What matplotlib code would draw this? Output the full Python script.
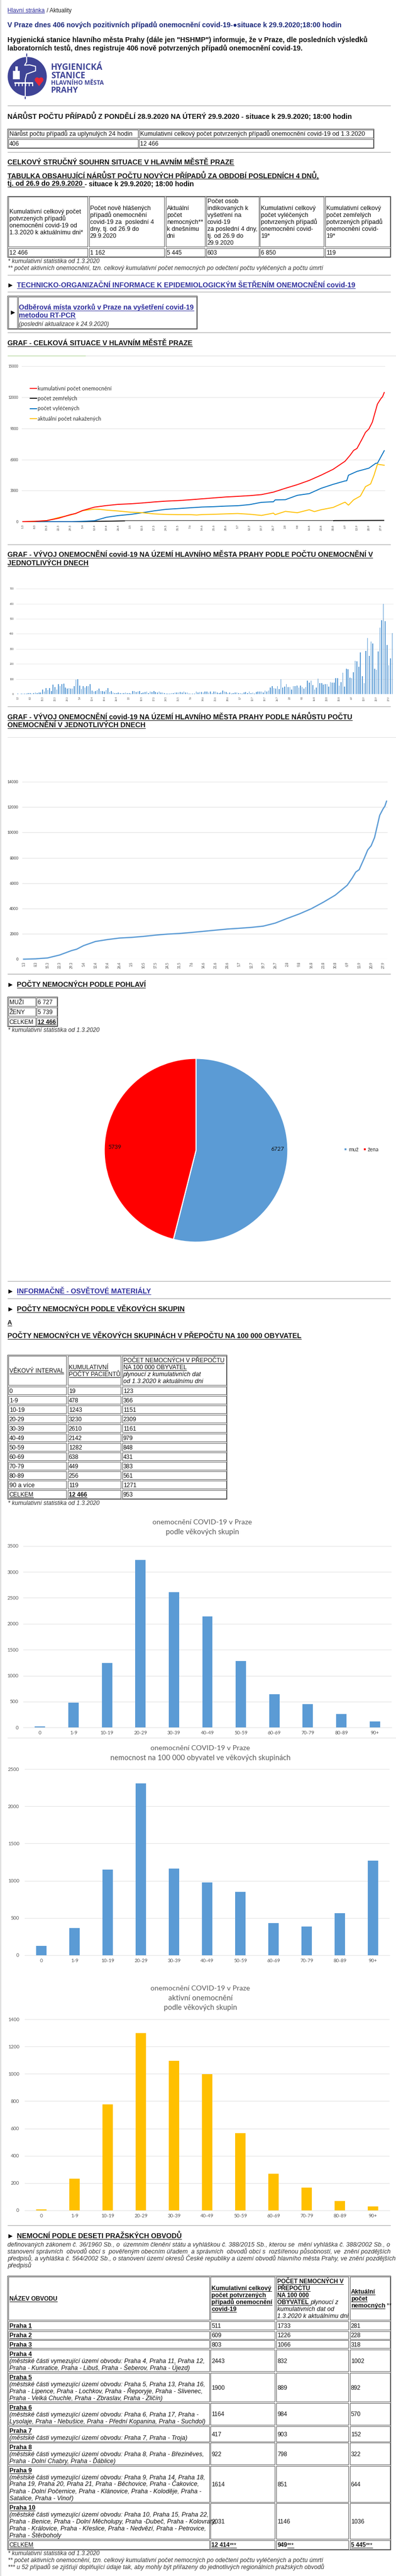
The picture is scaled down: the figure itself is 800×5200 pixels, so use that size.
import matplotlib
matplotlib.use('Agg')
import matplotlib.pyplot as plt
from matplotlib.patches import Rectangle, Circle, Polygon
from matplotlib.lines import Line2D

# ---------- DATA ----------
week_labels = ['1.3','8.3','15.3','22.3','29.3','5.4','12.4','19.4','26.4','3.5','10.5','17.5','24.5','31.5','7.6',
               '14.6','21.6','28.6','5.7','12.7','19.7','26.7','2.8','9.8','16.8','23.8','30.8','6.9','13.9','20.9','27.9']

cum_days = [0,7,14,21,28,31,35,42,49,56,63,70,77,84,91,98,105,112,119,126,133,140,147,154,161,168,175,182,189,192,194,196,199,201,203,205,207,208,209,210,211,212]
cum_vals = [3,30,100,330,680,790,1070,1400,1550,1670,1720,1800,1900,1980,2030,2110,2200,2290,2380,2440,2510,2610,2850,3220,3570,3980,4490,5050,5830,6415,6870,7065,7975,8620,8950,9600,10770,11350,11610,11870,12065,12466]

rec_days = [0,28,35,42,49,56,63,70,77,84,91,98,105,112,119,126,133,140,147,148,154,161,168,175,182,189,190,191,196,203,207,208,212]
rec_vals = [0,0,30,90,420,585,695,860,1040,1190,1260,1335,1410,1445,1500,1535,1645,1865,1920,2100,2120,2540,2705,3220,3600,3930,3950,4480,4850,5160,5630,5640,6850]

act_days = [0,7,14,21,28,31,35,42,45,49,56,63,70,77,84,91,98,102,105,112,119,126,133,140,147,148,154,161,168,171,175,182,189,191,194,198,201,204,206,208,212]
act_vals = [0,25,90,400,640,790,1060,1210,1190,1115,1025,915,860,750,695,675,675,640,680,710,750,785,715,600,820,675,990,860,1150,970,1150,1370,1880,1590,2100,2470,3380,3640,4480,5540,5445]

death_days_a = [0,33,40,50,60]
death_vals_a = [0,2,20,45,75]
death_days_b = [60,100,182]
death_vals_b = [75,85,90]
death_days_c = [182,183,212]
death_vals_c = [90,105,119]

daily_cases = [3,0,3,2,3,3,5, 8,3,8,11,8,9,9, 28,18,38,26,41,19,61, 45,28,65,52,65,68,42,
               35,38,35,35,52,95,100, 55,32,52,42,52,52,65, 22,16,19,25,35,19,19, 15,27,38,12,19,9,8,
               8,9,5,6,8,9,5, 7,4,19,19,12,15,21, 5,11,12,18,5,18,13, 21,12,11,18,9,11,8,
               2,3,3,8,8,11,9, 11,12,9,18,11,9,4, 4,4,4,15,9,12,12, 9,18,18,9,18,8,15,
               18,9,8,9,23,15,12, 8,11,2,8,9,11,8, 8,4,9,12,8,15,8, 11,2,12,15,15,18,11,
               23,15,23,42,52,38,35, 52,32,100,42,48,65,45, 46,30,52,54,55,42,55, 46,35,45,88,75,90,58,
               28,42,101,72,74,62,65, 65,48,78,75,75,105,105, 55,80,142,50,167,165,107,
               104,144,220,216,180,275,120, 72,287,373,253,350,337,168, 160,282,442,491,600,485,325, 190,238,406]

sex_labels = ['muž', 'žena']
sex_values = [6727, 5739]

age_labels = ['0','1-9','10-19','20-29','30-39','40-49','50-59','60-69','70-79','80-89','90+']
age_cases = [19,478,1243,3230,2610,2142,1282,638,449,256,119]
age_rate = [123,366,1151,2309,1161,979,848,431,383,561,1271]
age_active = [6,233,775,1300,1096,998,566,268,165,68,28]

legend_names = ['kumulativní počet onemocnění','počet zemřelých','počet vyléčených','aktuální počet nakažených']

age_table_names = ['0','1-9','10-19','20-29','30-39','40-49','50-59','60-69','70-79','80-89','90 a více']

table1 = [['Nárůst počtu případů za uplynulých 24 hodin','Kumulativní celkový počet potvrzených případů onemocnění covid-19 od 1.3.2020'],['406','12 466']]
table2_head = [['Kumulativní celkový počet','potvrzených případů','onemocnění covid-19 od','1.3.2020 k aktuálnímu dni*'],
               ['Počet nově hlášených','případů onemocnění','covid-19 za  poslední 4','dny, tj. od 26.9 do','29.9.2020'],
               ['Aktuální','počet','nemocných**','k dnešnímu','dni'],
               ['Počet osob','indikovaných k','vyšetření na','covid-19','za poslední 4 dny,','tj. od 26.9 do','29.9.2020'],
               ['Kumulativní celkový','počet vyléčených','potvrzených případů','onemocnění covid-','19*'],
               ['Kumulativní celkový','počet zemřelých','potvrzených případů','onemocnění covid-','19*']]
table2_vals = ['12 466','1 162','5 445','603','6 850','119']

districts = [
 ('Praha 1',[], '511','1733','281'),
 ('Praha 2',[], '609','1226','228'),
 ('Praha 3',[], '803','1066','318'),
 ('Praha 4',['(městské části vymezující území obvodu: Praha 4, Praha 11, Praha 12,','Praha - Kunratice, Praha - Libuš, Praha - Šeberov, Praha - Újezd)'],'2443','832','1002'),
 ('Praha 5',['(městské části vymezující území obvodu: Praha 5, Praha 13, Praha 16,','Praha - Lipence, Praha - Lochkov, Praha - Řeporyje, Praha - Slivenec,','Praha - Velká Chuchle, Praha - Zbraslav, Praha - Zličín)'],'1900','889','892'),
 ('Praha 6',['(městské části vymezující území obvodu: Praha 6, Praha 17, Praha -','Lysolaje, Praha - Nebušice, Praha - Přední Kopanina, Praha - Suchdol)'],'1164','984','570'),
 ('Praha 7',['(městské části vymezující území obvodu: Praha 7, Praha - Troja)'],'417','903','152'),
 ('Praha 8',['(městské části vymezující území obvodu: Praha 8, Praha - Březiněves,','Praha - Dolní Chabry, Praha - Ďáblice)'],'922','798','322'),
 ('Praha 9',['(městské části vymezující území obvodu: Praha 9, Praha 14, Praha 18,','Praha 19, Praha 20, Praha 21, Praha - Běchovice, Praha - Čakovice,','Praha - Dolní Počernice, Praha - Klánovice, Praha - Koloděje, Praha -','Satalice, Praha - Vinoř)'],'1614','851','644'),
 ('Praha 10',['(městské části vymezující území obvodu: Praha 10, Praha 15, Praha 22,','Praha - Benice, Praha - Dolní Měcholupy, Praha -Dubeč, Praha - Kolovraty,','Praha - Královice, Praha - Křeslice, Praha - Nedvězí, Praha - Petrovice,','Praha - Štěrboholy'],'2031','1146','1036'),
]
paragraph = ['definovaných zákonem č. 36/1960 Sb., o územním členění státu a vyhláškou č. 388/2015 Sb., kterou se mění vyhláška č. 388/2002 Sb., o',
             'stanovení správních obvodů obcí s pověřeným obecním úřadem a správních obvodů obcí s rozšířenou působností, ve znění pozdějších',
             'předpisů, a vyhláška č. 564/2002 Sb., o stanovení území okresů České republiky a území obvodů hlavního města Prahy, ve znění pozdějších']

# ---------- COLOURS / CANVAS ----------
BODY='Liberation Sans'; CH='Lato'
NAVY='#1d2a7c'; LINK='#2e2e9c'; INK='#111111'; GREY='#595959'; BAR='#5b9bd5'; YEL='#ffc000'; GRID='#e4e4e4'; BORD='#555555'
PT=0.72
plt.rcParams['font.family']=[BODY,'DejaVu Sans']
fig=plt.figure(figsize=(8,52),dpi=100,facecolor='white')
bg=fig.add_axes([0,0,1,1],zorder=0); bg.set_xlim(0,800); bg.set_ylim(5200,0); bg.axis('off')
R=fig.canvas.get_renderer()

def T(x,y,s,px=12,b=False,i=False,c=INK,u=False,w=None,ha='left',fam=BODY):
    t=bg.text(x,y+px*0.36,s,fontsize=px*PT,fontweight='bold' if b else 'normal',fontstyle='italic' if i else 'normal',color=c,ha=ha,va='baseline',family=[fam,'DejaVu Sans'])
    if w:
        cur=t.get_window_extent(R).width
        px=px*w/cur; t.set_fontsize(px*PT); t.set_y(y+px*0.36)
    wd=t.get_window_extent(R).width
    left=x if ha=='left' else x-wd/2
    if u:
        bg.plot([left,left+wd],[y+px*0.50]*2,color=c,lw=1*PT,solid_capstyle='butt')
    return left+wd

def HR(y,c='#aaaaaa',lw=1.2,x0=15,x1=789):
    bg.plot([x0,x1],[y,y],color=c,lw=lw*PT,solid_capstyle='butt')

def ARROW(y,x=21,px=11):
    T(x,y,'▶',px=px,ha='center',fam='DejaVu Sans',c='#000000')

def rect(x0,y0,x1,y1,ec=BORD,lw=1.0):
    bg.add_patch(Rectangle((x0,y0),x1-x0,y1-y0,fc='none',ec=ec,lw=lw*PT))

def cellpx(s):
    # hinted Arial runs wider on lower-case text than on capitals
    return 12.5 if any(ch.islower() for ch in s) else 12

def runs(x,y,line):
    """line is a string or list of (text, style) runs; style letters b,i,u"""
    if isinstance(line,str): line=[(line,'')]
    for s,st in line:
        x=T(x,y,s,px=cellpx(s),b='b' in st,i='i' in st,u='u' in st)

def table(x0,x1,y0,y1,cols,rows,cells,pitch=14,pad=3):
    rect(x0,y0,x1,y1,lw=1.2)
    xs=[x0]+cols+[x1]; ys=[y0]+rows+[y1]
    for r in range(len(ys)-1):
        for c in range(len(xs)-1):
            l=xs[c]+1.8; rr=xs[c+1]-1.0; t=ys[r]+1.8; bo=ys[r+1]-1.0
            rect(l,t,rr,bo)
            lines=cells[r][c]
            if not lines: continue
            mid=(t+bo)/2
            n=len(lines)
            for k,ln in enumerate(lines):
                runs(l+pad-1,mid+(k-(n-1)/2)*pitch,ln)

def axpx(l,t,r,b):
    ax=fig.add_axes([l/800,1-b/5200,(r-l)/800,(b-t)/5200],zorder=1)
    ax.patch.set_alpha(0)
    for s in ax.spines.values(): s.set_visible(False)
    return ax

# left page edge
bg.plot([0.7,0.7],[0,5200],color='#c8c8c8',lw=1.4*PT)

# ---------- HEADER ----------
e=T(15,20.5,'Hlavní stránka',u=True,c=LINK,w=76)
T(e+1,20.5,' / Aktuality',c='#222222',w=54)
T(15,50,'V Praze dnes 406 nových pozitivních případů onemocnění covid-19-●situace k 29.9.2020;18:00 hodin',px=13,b=True,c=NAVY,w=671)
T(15,80,'Hygienická stanice hlavního města Prahy (dále jen "HSHMP") informuje, že v Praze, dle posledních výsledků',px=13,b=True,w=724)
T(15,96.5,'laboratorních testů, dnes registruje 406 nově potvrzených případů onemocnění covid-19.',px=13,b=True,w=593)

# logo
LOGO='#3f4496'
bg.add_patch(Circle((55,154.5),39.5,fc=LOGO,ec='none'))
bg.plot([53.8,53.8],[109,115],color=LOGO,lw=2*PT)
bg.plot([51,51],[194,199],color=LOGO,lw=2*PT)
bg.plot([53.8,53.8,49.7,60,71.8,71.8,53.8,51,51],[115,125,131.7,131,134,143,149.5,160.7,194],color='white',lw=2*PT)
bg.add_patch(Rectangle((25.6,143),14.4,17,fc='white',ec='none'))
bg.add_patch(Rectangle((30.8,134),5,9,fc='white',ec='none'))
bg.add_patch(Rectangle((29,166),38,3.2,fc='white',ec='none'))
for hx in (30,37,44,51,58,65):
    bg.add_patch(Rectangle((hx,169),2,4.5,fc='white',ec='none'))
bg.add_patch(Circle((75,161),4.8,fc='#e8283a',ec='none'))
bg.add_patch(Circle((83,161),4.8,fc='#e8283a',ec='none'))
bg.add_patch(Polygon([(70.6,163),(87.4,163),(79,174)],fc='#e8283a',ec='none'))
T(103,135,'HYGIENICKÁ',px=18,b=True,c=LOGO,w=105,fam='Open Sans')
T(103,152,'STANICE',px=18,b=True,c=LOGO,w=69,fam='Open Sans')
T(103,167,'HLAVNÍHO MĚSTA',px=14,b=True,c=LOGO,w=106,fam='Open Sans')
T(103,181,'PRAHY',px=18,b=True,c=LOGO,w=55,fam='Open Sans')

HR(213)
T(15,234,'NÁRŮST POČTU PŘÍPADŮ Z PONDĚLÍ 28.9.2020 NA ÚTERÝ 29.9.2020 - situace k 29.9.2020; 18:00 hodin',px=13,b=True,w=691)
table(15.4,755,260,299,[279.5],[279],[[[table1[0][0]],[table1[0][1]]],[[table1[1][0]],[table1[1][1]]]])
HR(307)
T(15,327,'CELKOVÝ STRUČNÝ SOUHRN SITUACE V HLAVNÍM MĚSTĚ PRAZE',px=13,b=True,u=True,w=454)
T(15,354,'TABULKA OBSAHUJÍCÍ NÁRŮST POČTU NOVÝCH PŘÍPADŮ ZA OBDOBÍ POSLEDNÍCH 4 DNŮ,',px=13,b=True,u=True,w=630)
e=T(15,370,'tj. od 26.9 do 29.9.2020 ',px=13,b=True,u=True,w=156)
T(e,370,'- situace k 29.9.2020; 18:00 hodin',px=13,b=True,w=221)
table(15.4,789,395.5,519,[178,333,415,523.5,655],[499],[[h for h in table2_head],[[v] for v in table2_vals]])
T(16,527,'* kumulativní statistika od 1.3.2020',i=True,c='#333333',w=186)
T(16,540.6,'** počet aktivních onemocnění, tzn. celkový kumulativní počet nemocných po odečtení počtu vyléčených a počtu úmrtí',i=True,c='#333333',w=630)
HR(554.5)
ARROW(575)
T(34,575,'TECHNICKO-ORGANIZAČNÍ INFORMACE K EPIDEMIOLOGICKÝM ŠETŘENÍM ONEMOCNĚNÍ covid-19',px=13,b=True,u=True,c=LINK,w=676)
HR(589)
rect(15,597,398,664,lw=1.2)
rect(17,599,35,663); rect(37,599,397,663)
ARROW(630,x=26)
T(38.5,620,'Odběrová místa vzorků v Praze na vyšetření covid-19',px=13,b=True,u=True,c=LINK,w=355)
T(38.5,636,'metodou RT-PCR',px=13,b=True,u=True,c=LINK,w=115)
T(38.5,653.5,'(poslední aktualizace k 24.9.2020)',i=True,c='#333333',w=183)
HR(671)
T(15,692,'GRAF - CELKOVÁ SITUACE V HLAVNÍM MĚSTĚ PRAZE',px=13,b=True,u=True,w=371)

# ---------- CHART 1 ----------
HR(717.5,c='#dddddd',x0=173,x1=800,lw=1)
HR(717.5,c='#a9d18e',x0=15,x1=173,lw=1)
ax=axpx(43.6,739.3,778,1053)
LW1=1.35
ax.plot(cum_days,cum_vals,color='#ff0000',lw=LW1,clip_on=False,zorder=5)
ax.plot(death_days_a,death_vals_a,color='#000000',lw=LW1,clip_on=False,zorder=3,solid_capstyle='butt')
ax.plot(death_days_c,death_vals_c,color='#000000',lw=LW1,clip_on=False,zorder=3,solid_capstyle='butt')
ax.plot(death_days_b,death_vals_b,color='#bdbdbd',lw=LW1,clip_on=False,zorder=3,solid_capstyle='butt')
ax.plot(death_days_b,[v+35 for v in death_vals_b],color='#222222',lw=0.6,clip_on=False,zorder=3,solid_capstyle='butt')
ax.plot(rec_days,rec_vals,color='#0070c0',lw=LW1,clip_on=False,zorder=4)
ax.plot(act_days,act_vals,color=YEL,lw=LW1,clip_on=False,zorder=4)
ax.set_xlim(-0.75,212.5); ax.set_ylim(0,15000)
ax.set_yticks([0,3000,6000,9000,12000,15000])
ax.yaxis.grid(True,color=GRID,lw=1.1*PT); ax.set_axisbelow(True)
ax.set_xticks([7*k for k in range(len(week_labels))],week_labels,rotation=90)
ax.tick_params(axis='y',length=0,pad=4.7,labelsize=7*PT,labelcolor='#333333')
ax.tick_params(axis='x',length=0,pad=4.3,labelsize=6*PT,labelcolor='#444444')
for l in ax.get_xticklabels()+ax.get_yticklabels(): l.set_family([CH,'DejaVu Sans'])
handles=[Line2D([],[],color=c,lw=LW1) for c in ('#ff0000','#000000','#0070c0',YEL)]
ax.legend(handles,legend_names,loc='upper left',bbox_to_anchor=(60.5/800,1-778.5/5200),bbox_transform=fig.transFigure,frameon=False,
          prop={'family':[CH,'DejaVu Sans'],'size':11*PT},labelspacing=0.86,handlelength=1.27,handletextpad=0.15,borderpad=0,borderaxespad=0,labelcolor='#333333')

HR(1098.7)
T(15,1119,'GRAF - VÝVOJ ONEMOCNĚNÍ covid-19 NA ÚZEMÍ HLAVNÍHO MĚSTA PRAHY PODLE POČTU ONEMOCNĚNÍ V',px=13,b=True,u=True,w=733)
T(15,1135.5,'JEDNOTLIVÝCH DNECH',px=13,b=True,u=True,w=163)

# ---------- CHART 2 ----------
ax=axpx(33,1188.3,795,1401)
ax.bar(range(len(daily_cases)),daily_cases,width=0.46,color=BAR,zorder=3)
ax.set_xlim(-0.81,212.7); ax.set_ylim(0,700)
ax.set_yticks(range(0,800,100))
ax.yaxis.grid(True,color='#e9e9e9',lw=1.0*PT); ax.set_axisbelow(True)
ax.set_xticks([7*k for k in range(len(week_labels))],week_labels,rotation=90)
ax.tick_params(axis='y',length=0,pad=3.8,labelsize=4.8*PT,labelcolor='#333333')
ax.tick_params(axis='x',length=0,pad=3.4,labelsize=4.6*PT,labelcolor='#444444')
for l in ax.get_xticklabels()+ax.get_yticklabels(): l.set_family([CH,'DejaVu Sans'])

HR(1426)
T(15,1447,'GRAF - VÝVOJ ONEMOCNĚNÍ covid-19 NA ÚZEMÍ HLAVNÍHO MĚSTA PRAHY PODLE NÁRŮSTU POČTU',px=13,b=True,u=True,w=691)
T(15,1463,'ONEMOCNĚNÍ V JEDNOTLIVÝCH DNECH',px=13,b=True,u=True,w=276)
HR(1488,c='#dddddd',x1=800,lw=1)

# ---------- CHART 3 ----------
ax=axpx(45,1578,783,1936.3)
ax.plot(cum_days,cum_vals,color=BAR,lw=1.8,clip_on=False,zorder=3)
ax.set_xlim(-0.78,212.6); ax.set_ylim(0,14000)
ax.set_yticks(range(0,16000,2000))
ax.yaxis.grid(True,color=GRID,lw=1.3*PT); ax.set_axisbelow(True)
ax.set_xticks([7*k for k in range(len(week_labels))],week_labels,rotation=90)
ax.tick_params(axis='y',length=0,pad=5.5,labelsize=7.8*PT,labelcolor='#333333')
ax.tick_params(axis='x',length=0,pad=3.9,labelsize=6.6*PT,labelcolor='#444444')
for l in ax.get_xticklabels()+ax.get_yticklabels(): l.set_family([CH,'DejaVu Sans'])

HR(1966,lw=1.4)
ARROW(1987)
T(33.5,1987,'POČTY NEMOCNÝCH PODLE POHLAVÍ',px=13,b=True,u=True,w=261.5)
table(15,116,2012,2072,[72.5],[2032,2051.7],[[['MUŽI'],['6 727']],[['ŽENY'],['5 739']],[['CELKEM'],[[('12 466','bu')]]]])
T(16,2078.7,'* kumulativní statistika od 1.3.2020',i=True,c='#333333',w=186)

# ---------- PIE ----------
ax=axpx(396-185.5,2322-185.5,396+185.5,2322+185.5)
wedges,_=ax.pie(sex_values,colors=[BAR,'#ff0000'],startangle=90,counterclock=False,radius=1,wedgeprops={'edgecolor':'white','linewidth':2.2*PT})
ax.set_xlim(-1,1); ax.set_ylim(-1,1)
ax.text(0.887,0.016,str(sex_values[0]),ha='center',va='center',fontsize=11.5*PT,family=[CH,'DejaVu Sans'],color='#111111')
ax.text(-0.887,0.036,str(sex_values[1]),ha='center',va='center',fontsize=11.5*PT,family=[CH,'DejaVu Sans'],color='#111111')
ax.legend(wedges,sex_labels,ncol=2,loc='center left',bbox_to_anchor=(695.4/800,1-2320.6/5200),bbox_transform=fig.transFigure,frameon=False,
          prop={'family':[CH,'DejaVu Sans'],'size':11*PT},handlelength=0.5,handleheight=0.5,columnspacing=0.9,handletextpad=0.3,borderpad=0,borderaxespad=0,labelcolor='#333333')

HR(2586)
ARROW(2606)
T(33.5,2606,'INFORMAČNĚ - OSVĚTOVÉ MATERIÁLY',px=13,b=True,u=True,c=LINK,w=268)
HR(2620.7)
ARROW(2642)
T(33.5,2642,'POČTY NEMOCNÝCH PODLE VĚKOVÝCH SKUPIN',px=13,b=True,u=True,w=336)
T(15,2669.7,'A',px=13,b=True,u=True)
T(15,2696,'POČTY NEMOCNÝCH VE VĚKOVÝCH SKUPINÁCH V PŘEPOČTU NA 100 000 OBYVATEL',px=13,b=True,u=True,w=589)

# ---------- AGE TABLE ----------
h3=[[[('VĚKOVÝ INTERVAL','u')]],
    [[('KUMULATIVNÍ','u')],[('POČTY PACIENTŮ','u')]],
    [[('POČET NEMOCNÝCH V PŘEPOČTU','u')],[('NA 100 000 OBYVATEL','u')],[('plynoucí z kumulativních dat','i')],[('od 1.3.2020 k aktuálnímu dni','i')]]]
cells3=[h3]+[[[a],[str(b)],[str(c)]] for a,b,c in zip(age_table_names,age_cases,age_rate)]
cells3.append([[[('CELKEM','u')]],[[('12 466','bu')]],['953']])
table(15,458,2735,3026,[135,245],[2797.3+19*k for k in range(12)],cells3)
T(16,3033.7,'* kumulativní statistika od 1.3.2020',i=True,c='#333333',w=186)

# ---------- AGE CHARTS ----------
def agechart(box,values,color,ymax,step,titles,tcx,tys,twidths,pad):
    ax=axpx(*box)
    ax.bar(range(len(values)),values,width=0.31,color=color,zorder=3)
    ax.set_xlim(-0.5,len(values)-0.5); ax.set_ylim(0,ymax)
    ax.set_yticks(range(0,ymax+1,step))
    ax.yaxis.grid(True,color=GRID,lw=1.2*PT); ax.set_axisbelow(True)
    ax.set_xticks(range(len(values)),age_labels)
    ax.tick_params(axis='y',length=0,pad=pad,labelsize=10*PT,labelcolor=GREY)
    ax.tick_params(axis='x',length=0,pad=5,labelsize=10*PT,labelcolor=GREY)
    ax.spines['bottom'].set_visible(True); ax.spines['bottom'].set_color(GRID); ax.spines['bottom'].set_linewidth(1.2*PT)
    for l in ax.get_xticklabels()+ax.get_yticklabels(): l.set_family([CH,'DejaVu Sans'])
    for s,y,w in zip(titles,tys,twidths):
        T(tcx,y,s,px=14,c=GREY,ha='center',fam=CH,w=w)

agechart((47,3120.7,791,3487.3),age_cases,BAR,3500,500,['onemocnění COVID-19 v Praze','podle věkových skupin'],409,[3072,3092],[201,148],7)
HR(3508,c='#dddddd',x1=800,lw=1)
agechart((50,3571.3,787,3946.7),age_rate,BAR,2500,500,['onemocnění COVID-19 v Praze','nemocnost na 100 000 obyvatel ve věkových skupinách'],405,[3527.7,3547.7],[201,365],8)
agechart((50,4076.3,787,4461.7),age_active,YEL,1400,200,['onemocnění COVID-19 v Praze','aktivní onemocnění','podle věkových skupin'],405,[4013,4033,4052],[201,131,148],8)

HR(4492.4)
ARROW(4513)
T(33.5,4513,'NEMOCNÍ PODLE DESETI PRAŽSKÝCH OBVODŮ',px=13,b=True,u=True,w=330)

# justified paragraph: same string with the gaps widened by extra spaces
def justified(y,s,x0,x1,px=12):
    t=bg.text(x0,y+px*0.36,s,fontsize=px*PT,fontstyle='italic',color='#333333',va='baseline')
    nat=t.get_window_extent(R).width
    a=bg.text(0,0,'a a',fontsize=px*PT,fontstyle='italic'); b_=bg.text(0,0,'aa',fontsize=px*PT,fontstyle='italic')
    sp=a.get_window_extent(R).width-b_.get_window_extent(R).width
    a.remove(); b_.remove()
    words=s.split(' ')
    extra=max(0,round((x1-x0-nat)/sp))
    gaps=len(words)-1
    out=words[0]
    acc=0
    for k,wd in enumerate(words[1:],1):
        want=round(extra*k/gaps)
        out+=' '*(1+want-acc)+wd
        acc=want
    t.set_text(out)
for s,y in zip(paragraph,[4530.6,4544.7,4558.9]):
    justified(y,s,15,789,px=12.5)
T(15,4572.5,'předpisů',px=12.5,i=True,c='#333333')

# ---------- DISTRICT TABLE ----------
h4=[[[('NÁZEV OBVODU','bu')]],
    [[('Kumulativní celkový','bu')],[('počet potvrzených','bu')],[('případů onemocnění','bu')],[('covid-19','bu')]],
    [[('POČET NEMOCNÝCH V','bu')],[('PŘEPOČTU','bu')],[('NA 100 000','bu')],[('OBYVATEL ','bu'),('plynoucí z','i')],[('kumulativních dat od','i')],[('1.3.2020 k aktuálnímu dni','i')]],
    [[('Aktuální','bu')],[('počet','bu')],[('nemocných','bu'),(' **','')]]]
cells4=[h4]
for name,detail,c1,c2,c3 in districts:
    cells4.append([[[(name,'bu')]]+[[(d,'i')] for d in detail],[c1],[c2],[c3]])
cells4.append([[[('CELKEM','u')]],[[('12 414','bu'),('***','u')]],[[('949','b'),('***','u')]],[[('5 445','bu'),('***','u')]]])
zr=[582,619,655,691,781,897,987,1051,1140,1284,1427]
table(15,789,4380+410/1.912,4380+1466/1.912,[423.6,556.4,705],[4380+z/1.912 for z in zr],cells4)
T(16,5153.5,'* kumulativní statistika od 1.3.2020',i=True,c='#333333',w=186)
T(16,5167.6,'** počet aktivních onemocnění, tzn. celkový kumulativní počet nemocných po odečtení počtu vyléčených a počtu úmrtí',i=True,c='#333333',w=630)
T(16,5181.8,'*** u 52 případů se zjišťují doplňující údaje tak, aby mohly být přiřazeny do jednotlivých regionálních pražských obvodů',i=True,c='#333333',w=633)

assert len(daily_cases)==213
fig.savefig('out.png',dpi=100)
